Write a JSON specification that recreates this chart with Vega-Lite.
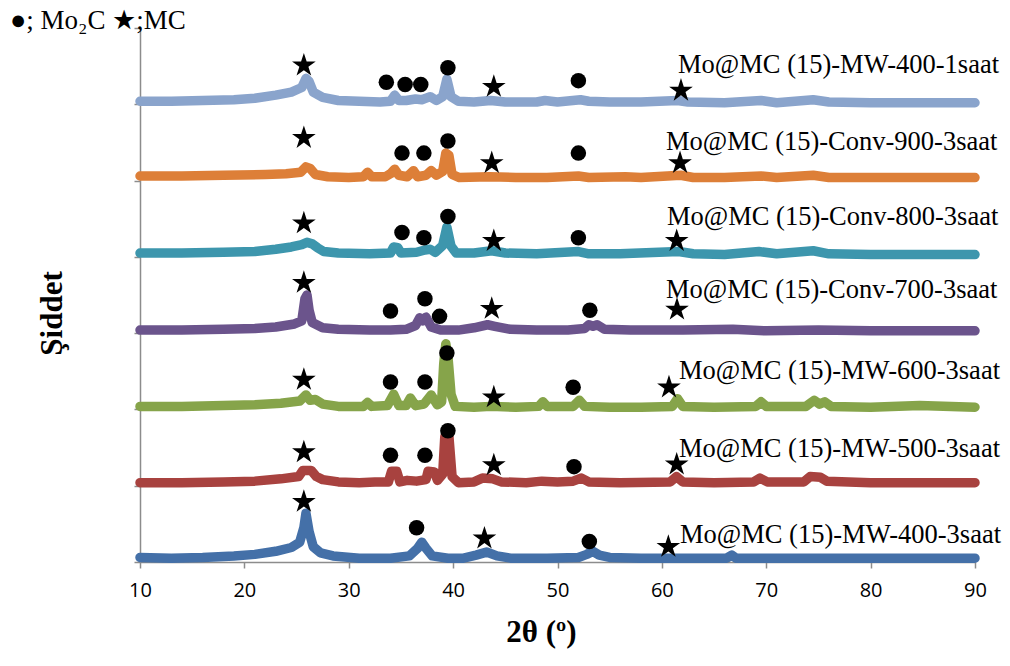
{
  "$schema": "https://vega.github.io/schema/vega-lite/v6.json",
  "width": 835,
  "height": 534,
  "autosize": "none",
  "padding": {"left": 140, "top": 28, "right": 35, "bottom": 104},
  "background": "white",
  "config": {"view": {"stroke": null}},
  "title": {
    "text": "●; Mo₂C  ★;MC",
    "anchor": "start",
    "frame": "group",
    "dx": -130,
    "dy": 29,
    "offset": 0,
    "baseline": "alphabetic",
    "font": "Liberation Serif",
    "fontSize": 27,
    "fontWeight": "normal",
    "color": "#000000"
  },
  "datasets": {
    "xrd": [
      {"s":"MW-400-1saat","x":10,"y":6.04},{"s":"MW-400-1saat","x":13,"y":6.04},{"s":"MW-400-1saat","x":16,"y":6.05},{"s":"MW-400-1saat","x":19,"y":6.06},{"s":"MW-400-1saat","x":21,"y":6.08},{"s":"MW-400-1saat","x":23,"y":6.12},{"s":"MW-400-1saat","x":24.5,"y":6.16},{"s":"MW-400-1saat","x":25.5,"y":6.22},{"s":"MW-400-1saat","x":25.9,"y":6.34},{"s":"MW-400-1saat","x":26.2,"y":6.3},{"s":"MW-400-1saat","x":26.6,"y":6.16},{"s":"MW-400-1saat","x":27.5,"y":6.09},{"s":"MW-400-1saat","x":29,"y":6.05},{"s":"MW-400-1saat","x":31,"y":6.04},{"s":"MW-400-1saat","x":33,"y":6.03},{"s":"MW-400-1saat","x":34,"y":6.04},{"s":"MW-400-1saat","x":34.4,"y":6.12},{"s":"MW-400-1saat","x":34.8,"y":6.05},{"s":"MW-400-1saat","x":35.5,"y":6.05},{"s":"MW-400-1saat","x":36.4,"y":6.07},{"s":"MW-400-1saat","x":37,"y":6.06},{"s":"MW-400-1saat","x":37.8,"y":6.1},{"s":"MW-400-1saat","x":38.4,"y":6.05},{"s":"MW-400-1saat","x":39,"y":6.1},{"s":"MW-400-1saat","x":39.4,"y":6.33},{"s":"MW-400-1saat","x":39.8,"y":6.1},{"s":"MW-400-1saat","x":40.5,"y":6.04},{"s":"MW-400-1saat","x":42,"y":6.03},{"s":"MW-400-1saat","x":43.6,"y":6.05},{"s":"MW-400-1saat","x":45,"y":6.03},{"s":"MW-400-1saat","x":48,"y":6.03},{"s":"MW-400-1saat","x":48.8,"y":6.05},{"s":"MW-400-1saat","x":50,"y":6.03},{"s":"MW-400-1saat","x":52.2,"y":6.06},{"s":"MW-400-1saat","x":53,"y":6.04},{"s":"MW-400-1saat","x":55,"y":6.03},{"s":"MW-400-1saat","x":58,"y":6.03},{"s":"MW-400-1saat","x":61.5,"y":6.05},{"s":"MW-400-1saat","x":62.5,"y":6.03},{"s":"MW-400-1saat","x":66,"y":6.02},{"s":"MW-400-1saat","x":69.5,"y":6.05},{"s":"MW-400-1saat","x":71,"y":6.02},{"s":"MW-400-1saat","x":74.5,"y":6.06},{"s":"MW-400-1saat","x":76,"y":6.03},{"s":"MW-400-1saat","x":80,"y":6.02},{"s":"MW-400-1saat","x":85,"y":6.02},{"s":"MW-400-1saat","x":90,"y":6.02},

      {"s":"Conv-900","x":10,"y":5.06},{"s":"Conv-900","x":14,"y":5.06},{"s":"Conv-900","x":18,"y":5.07},{"s":"Conv-900","x":22,"y":5.08},{"s":"Conv-900","x":24,"y":5.09},{"s":"Conv-900","x":25.4,"y":5.11},{"s":"Conv-900","x":25.9,"y":5.18},{"s":"Conv-900","x":26.3,"y":5.16},{"s":"Conv-900","x":26.8,"y":5.08},{"s":"Conv-900","x":28,"y":5.05},{"s":"Conv-900","x":30,"y":5.04},{"s":"Conv-900","x":31.4,"y":5.05},{"s":"Conv-900","x":31.8,"y":5.11},{"s":"Conv-900","x":32.2,"y":5.05},{"s":"Conv-900","x":33.5,"y":5.05},{"s":"Conv-900","x":34,"y":5.09},{"s":"Conv-900","x":34.4,"y":5.15},{"s":"Conv-900","x":34.8,"y":5.07},{"s":"Conv-900","x":35.6,"y":5.05},{"s":"Conv-900","x":36.2,"y":5.13},{"s":"Conv-900","x":36.6,"y":5.05},{"s":"Conv-900","x":37.4,"y":5.07},{"s":"Conv-900","x":37.9,"y":5.13},{"s":"Conv-900","x":38.4,"y":5.07},{"s":"Conv-900","x":39,"y":5.12},{"s":"Conv-900","x":39.3,"y":5.36},{"s":"Conv-900","x":39.6,"y":5.33},{"s":"Conv-900","x":39.9,"y":5.08},{"s":"Conv-900","x":40.6,"y":5.04},{"s":"Conv-900","x":43.5,"y":5.05},{"s":"Conv-900","x":46,"y":5.04},{"s":"Conv-900","x":49,"y":5.04},{"s":"Conv-900","x":52,"y":5.06},{"s":"Conv-900","x":53,"y":5.04},{"s":"Conv-900","x":56.5,"y":5.05},{"s":"Conv-900","x":58,"y":5.04},{"s":"Conv-900","x":61.8,"y":5.07},{"s":"Conv-900","x":63,"y":5.04},{"s":"Conv-900","x":66,"y":5.04},{"s":"Conv-900","x":69.5,"y":5.06},{"s":"Conv-900","x":71,"y":5.04},{"s":"Conv-900","x":74.5,"y":5.07},{"s":"Conv-900","x":76,"y":5.04},{"s":"Conv-900","x":80,"y":5.04},{"s":"Conv-900","x":85,"y":5.04},{"s":"Conv-900","x":90,"y":5.04},

      {"s":"Conv-800","x":10,"y":4.05},{"s":"Conv-800","x":14,"y":4.05},{"s":"Conv-800","x":18,"y":4.06},{"s":"Conv-800","x":21,"y":4.07},{"s":"Conv-800","x":23,"y":4.1},{"s":"Conv-800","x":24.5,"y":4.13},{"s":"Conv-800","x":25.5,"y":4.16},{"s":"Conv-800","x":26,"y":4.19},{"s":"Conv-800","x":26.5,"y":4.17},{"s":"Conv-800","x":27,"y":4.12},{"s":"Conv-800","x":27.6,"y":4.07},{"s":"Conv-800","x":29,"y":4.05},{"s":"Conv-800","x":32,"y":4.04},{"s":"Conv-800","x":34,"y":4.05},{"s":"Conv-800","x":34.3,"y":4.13},{"s":"Conv-800","x":34.7,"y":4.12},{"s":"Conv-800","x":35,"y":4.05},{"s":"Conv-800","x":36.5,"y":4.06},{"s":"Conv-800","x":37.3,"y":4.09},{"s":"Conv-800","x":37.8,"y":4.1},{"s":"Conv-800","x":38.3,"y":4.06},{"s":"Conv-800","x":39,"y":4.15},{"s":"Conv-800","x":39.4,"y":4.39},{"s":"Conv-800","x":39.8,"y":4.14},{"s":"Conv-800","x":40.3,"y":4.05},{"s":"Conv-800","x":42,"y":4.05},{"s":"Conv-800","x":43.7,"y":4.08},{"s":"Conv-800","x":45,"y":4.05},{"s":"Conv-800","x":48,"y":4.04},{"s":"Conv-800","x":52,"y":4.07},{"s":"Conv-800","x":53,"y":4.04},{"s":"Conv-800","x":56,"y":4.04},{"s":"Conv-800","x":61.6,"y":4.07},{"s":"Conv-800","x":63,"y":4.04},{"s":"Conv-800","x":66,"y":4.03},{"s":"Conv-800","x":69.3,"y":4.07},{"s":"Conv-800","x":71,"y":4.04},{"s":"Conv-800","x":74.5,"y":4.08},{"s":"Conv-800","x":76,"y":4.04},{"s":"Conv-800","x":80,"y":4.03},{"s":"Conv-800","x":85,"y":4.03},{"s":"Conv-800","x":90,"y":4.03},

      {"s":"Conv-700","x":10,"y":3.04},{"s":"Conv-700","x":14,"y":3.04},{"s":"Conv-700","x":18,"y":3.05},{"s":"Conv-700","x":21,"y":3.06},{"s":"Conv-700","x":23,"y":3.08},{"s":"Conv-700","x":24.8,"y":3.12},{"s":"Conv-700","x":25.5,"y":3.16},{"s":"Conv-700","x":25.8,"y":3.45},{"s":"Conv-700","x":26,"y":3.5},{"s":"Conv-700","x":26.2,"y":3.3},{"s":"Conv-700","x":26.5,"y":3.14},{"s":"Conv-700","x":27.5,"y":3.07},{"s":"Conv-700","x":29,"y":3.05},{"s":"Conv-700","x":32,"y":3.04},{"s":"Conv-700","x":34,"y":3.04},{"s":"Conv-700","x":35.5,"y":3.05},{"s":"Conv-700","x":36.4,"y":3.1},{"s":"Conv-700","x":36.8,"y":3.2},{"s":"Conv-700","x":37.1,"y":3.16},{"s":"Conv-700","x":37.4,"y":3.21},{"s":"Conv-700","x":37.9,"y":3.08},{"s":"Conv-700","x":38.8,"y":3.04},{"s":"Conv-700","x":40.5,"y":3.04},{"s":"Conv-700","x":42,"y":3.07},{"s":"Conv-700","x":43.3,"y":3.11},{"s":"Conv-700","x":44,"y":3.09},{"s":"Conv-700","x":45.5,"y":3.05},{"s":"Conv-700","x":48,"y":3.04},{"s":"Conv-700","x":51,"y":3.04},{"s":"Conv-700","x":52.6,"y":3.06},{"s":"Conv-700","x":53,"y":3.11},{"s":"Conv-700","x":53.4,"y":3.09},{"s":"Conv-700","x":53.8,"y":3.11},{"s":"Conv-700","x":54.5,"y":3.05},{"s":"Conv-700","x":57,"y":3.04},{"s":"Conv-700","x":62,"y":3.04},{"s":"Conv-700","x":66.8,"y":3.05},{"s":"Conv-700","x":70,"y":3.03},{"s":"Conv-700","x":75,"y":3.04},{"s":"Conv-700","x":80,"y":3.03},{"s":"Conv-700","x":85,"y":3.03},{"s":"Conv-700","x":90,"y":3.03},

      {"s":"MW-600","x":10,"y":2.04},{"s":"MW-600","x":14,"y":2.04},{"s":"MW-600","x":18,"y":2.05},{"s":"MW-600","x":21,"y":2.06},{"s":"MW-600","x":23.5,"y":2.08},{"s":"MW-600","x":25.3,"y":2.11},{"s":"MW-600","x":25.9,"y":2.19},{"s":"MW-600","x":26.3,"y":2.12},{"s":"MW-600","x":26.8,"y":2.13},{"s":"MW-600","x":27.5,"y":2.07},{"s":"MW-600","x":29,"y":2.04},{"s":"MW-600","x":31.4,"y":2.04},{"s":"MW-600","x":31.8,"y":2.09},{"s":"MW-600","x":32.2,"y":2.04},{"s":"MW-600","x":33.7,"y":2.05},{"s":"MW-600","x":34.3,"y":2.2},{"s":"MW-600","x":34.8,"y":2.05},{"s":"MW-600","x":35.5,"y":2.05},{"s":"MW-600","x":35.9,"y":2.15},{"s":"MW-600","x":36.4,"y":2.05},{"s":"MW-600","x":37.2,"y":2.07},{"s":"MW-600","x":37.9,"y":2.19},{"s":"MW-600","x":38.5,"y":2.06},{"s":"MW-600","x":38.9,"y":2.1},{"s":"MW-600","x":39.1,"y":2.6},{"s":"MW-600","x":39.3,"y":2.86},{"s":"MW-600","x":39.5,"y":2.7},{"s":"MW-600","x":39.8,"y":2.2},{"s":"MW-600","x":40.2,"y":2.04},{"s":"MW-600","x":42,"y":2.03},{"s":"MW-600","x":43.6,"y":2.04},{"s":"MW-600","x":46,"y":2.03},{"s":"MW-600","x":48.2,"y":2.04},{"s":"MW-600","x":48.6,"y":2.1},{"s":"MW-600","x":49,"y":2.04},{"s":"MW-600","x":51.5,"y":2.04},{"s":"MW-600","x":52.1,"y":2.12},{"s":"MW-600","x":52.6,"y":2.04},{"s":"MW-600","x":55,"y":2.03},{"s":"MW-600","x":58,"y":2.03},{"s":"MW-600","x":61,"y":2.04},{"s":"MW-600","x":61.5,"y":2.14},{"s":"MW-600","x":62,"y":2.04},{"s":"MW-600","x":65,"y":2.03},{"s":"MW-600","x":69,"y":2.04},{"s":"MW-600","x":69.5,"y":2.1},{"s":"MW-600","x":70,"y":2.04},{"s":"MW-600","x":73.8,"y":2.04},{"s":"MW-600","x":74.6,"y":2.12},{"s":"MW-600","x":75.1,"y":2.07},{"s":"MW-600","x":75.6,"y":2.1},{"s":"MW-600","x":76.2,"y":2.04},{"s":"MW-600","x":80,"y":2.03},{"s":"MW-600","x":84.7,"y":2.05},{"s":"MW-600","x":90,"y":2.03},

      {"s":"MW-500","x":10,"y":1.04},{"s":"MW-500","x":14,"y":1.04},{"s":"MW-500","x":18,"y":1.05},{"s":"MW-500","x":21,"y":1.06},{"s":"MW-500","x":23.5,"y":1.09},{"s":"MW-500","x":25.2,"y":1.12},{"s":"MW-500","x":25.6,"y":1.2},{"s":"MW-500","x":26.4,"y":1.2},{"s":"MW-500","x":26.9,"y":1.12},{"s":"MW-500","x":27.5,"y":1.08},{"s":"MW-500","x":29,"y":1.05},{"s":"MW-500","x":31,"y":1.04},{"s":"MW-500","x":32.5,"y":1.05},{"s":"MW-500","x":33.8,"y":1.05},{"s":"MW-500","x":34.1,"y":1.19},{"s":"MW-500","x":34.6,"y":1.19},{"s":"MW-500","x":34.9,"y":1.05},{"s":"MW-500","x":35.6,"y":1.07},{"s":"MW-500","x":36.5,"y":1.06},{"s":"MW-500","x":37.4,"y":1.08},{"s":"MW-500","x":37.6,"y":1.19},{"s":"MW-500","x":38.2,"y":1.18},{"s":"MW-500","x":38.5,"y":1.07},{"s":"MW-500","x":39,"y":1.15},{"s":"MW-500","x":39.2,"y":1.64},{"s":"MW-500","x":39.6,"y":1.64},{"s":"MW-500","x":39.9,"y":1.12},{"s":"MW-500","x":40.5,"y":1.04},{"s":"MW-500","x":42,"y":1.05},{"s":"MW-500","x":42.8,"y":1.1},{"s":"MW-500","x":43.8,"y":1.09},{"s":"MW-500","x":44.6,"y":1.05},{"s":"MW-500","x":47,"y":1.04},{"s":"MW-500","x":48.5,"y":1.06},{"s":"MW-500","x":50,"y":1.05},{"s":"MW-500","x":51.5,"y":1.06},{"s":"MW-500","x":52.3,"y":1.1},{"s":"MW-500","x":53,"y":1.05},{"s":"MW-500","x":56,"y":1.04},{"s":"MW-500","x":60.8,"y":1.05},{"s":"MW-500","x":61.4,"y":1.12},{"s":"MW-500","x":62,"y":1.05},{"s":"MW-500","x":65,"y":1.04},{"s":"MW-500","x":68.8,"y":1.05},{"s":"MW-500","x":69.4,"y":1.1},{"s":"MW-500","x":70.1,"y":1.05},{"s":"MW-500","x":73.6,"y":1.05},{"s":"MW-500","x":74.2,"y":1.12},{"s":"MW-500","x":75.2,"y":1.11},{"s":"MW-500","x":75.8,"y":1.06},{"s":"MW-500","x":80,"y":1.04},{"s":"MW-500","x":85,"y":1.04},{"s":"MW-500","x":90,"y":1.04},

      {"s":"MW-400-3saat","x":10,"y":0.06},{"s":"MW-400-3saat","x":13,"y":0.05},{"s":"MW-400-3saat","x":16,"y":0.06},{"s":"MW-400-3saat","x":19,"y":0.08},{"s":"MW-400-3saat","x":21,"y":0.1},{"s":"MW-400-3saat","x":23,"y":0.14},{"s":"MW-400-3saat","x":24.5,"y":0.19},{"s":"MW-400-3saat","x":25.3,"y":0.26},{"s":"MW-400-3saat","x":25.7,"y":0.45},{"s":"MW-400-3saat","x":25.9,"y":0.64},{"s":"MW-400-3saat","x":26.2,"y":0.4},{"s":"MW-400-3saat","x":26.6,"y":0.2},{"s":"MW-400-3saat","x":27.3,"y":0.12},{"s":"MW-400-3saat","x":28.5,"y":0.08},{"s":"MW-400-3saat","x":31,"y":0.05},{"s":"MW-400-3saat","x":34,"y":0.05},{"s":"MW-400-3saat","x":35.8,"y":0.08},{"s":"MW-400-3saat","x":36.6,"y":0.18},{"s":"MW-400-3saat","x":37,"y":0.26},{"s":"MW-400-3saat","x":37.4,"y":0.18},{"s":"MW-400-3saat","x":38,"y":0.08},{"s":"MW-400-3saat","x":39.5,"y":0.05},{"s":"MW-400-3saat","x":41,"y":0.05},{"s":"MW-400-3saat","x":42.2,"y":0.09},{"s":"MW-400-3saat","x":43.2,"y":0.13},{"s":"MW-400-3saat","x":44.2,"y":0.08},{"s":"MW-400-3saat","x":45.5,"y":0.05},{"s":"MW-400-3saat","x":49,"y":0.05},{"s":"MW-400-3saat","x":52,"y":0.06},{"s":"MW-400-3saat","x":52.8,"y":0.1},{"s":"MW-400-3saat","x":53.4,"y":0.14},{"s":"MW-400-3saat","x":54,"y":0.09},{"s":"MW-400-3saat","x":55,"y":0.06},{"s":"MW-400-3saat","x":58,"y":0.05},{"s":"MW-400-3saat","x":61,"y":0.05},{"s":"MW-400-3saat","x":66.2,"y":0.05},{"s":"MW-400-3saat","x":66.7,"y":0.09},{"s":"MW-400-3saat","x":67.1,"y":0.05},{"s":"MW-400-3saat","x":70,"y":0.05},{"s":"MW-400-3saat","x":75,"y":0.05},{"s":"MW-400-3saat","x":80,"y":0.05},{"s":"MW-400-3saat","x":85,"y":0.05},{"s":"MW-400-3saat","x":90,"y":0.05}
    ],
    "phases": [
      {"phase":"MC","x":25.7,"y":6.51},{"phase":"Mo2C","x":33.6,"y":6.29},{"phase":"Mo2C","x":35.4,"y":6.26},{"phase":"Mo2C","x":36.9,"y":6.26},{"phase":"Mo2C","x":39.5,"y":6.48},{"phase":"MC","x":43.9,"y":6.23},{"phase":"Mo2C","x":52.0,"y":6.31},{"phase":"MC","x":61.83,"y":6.18},
      {"phase":"MC","x":25.7,"y":5.56},{"phase":"Mo2C","x":35.1,"y":5.36},{"phase":"Mo2C","x":37.2,"y":5.36},{"phase":"Mo2C","x":39.5,"y":5.52},{"phase":"MC","x":43.7,"y":5.23},{"phase":"Mo2C","x":52.0,"y":5.36},{"phase":"MC","x":61.74,"y":5.23},
      {"phase":"MC","x":25.7,"y":4.44},{"phase":"Mo2C","x":35.1,"y":4.32},{"phase":"Mo2C","x":37.2,"y":4.25},{"phase":"Mo2C","x":39.5,"y":4.53},{"phase":"MC","x":43.9,"y":4.21},{"phase":"Mo2C","x":52.0,"y":4.25},{"phase":"MC","x":61.42,"y":4.21},
      {"phase":"MC","x":25.7,"y":3.66},{"phase":"Mo2C","x":34.0,"y":3.29},{"phase":"Mo2C","x":37.3,"y":3.45},{"phase":"Mo2C","x":38.7,"y":3.22},{"phase":"MC","x":43.7,"y":3.32},{"phase":"Mo2C","x":53.1,"y":3.3},{"phase":"MC","x":61.45,"y":3.31},
      {"phase":"MC","x":25.7,"y":2.39},{"phase":"Mo2C","x":34.0,"y":2.36},{"phase":"Mo2C","x":37.3,"y":2.36},{"phase":"Mo2C","x":39.4,"y":2.74},{"phase":"MC","x":43.9,"y":2.16},{"phase":"Mo2C","x":51.5,"y":2.29},{"phase":"MC","x":60.68,"y":2.29},
      {"phase":"MC","x":25.7,"y":1.44},{"phase":"Mo2C","x":34.0,"y":1.4},{"phase":"Mo2C","x":37.3,"y":1.4},{"phase":"Mo2C","x":39.5,"y":1.72},{"phase":"MC","x":43.9,"y":1.27},{"phase":"Mo2C","x":51.58,"y":1.25},{"phase":"MC","x":61.42,"y":1.28},
      {"phase":"MC","x":25.7,"y":0.79},{"phase":"Mo2C","x":36.5,"y":0.45},{"phase":"MC","x":43.0,"y":0.31},{"phase":"Mo2C","x":53.05,"y":0.27},{"phase":"MC","x":60.62,"y":0.2}
    ],
    "labels": [
      {"text":"Mo@MC (15)-MW-400-1saat","x":61.55,"y":6.41},
      {"text":"Mo@MC (15)-Conv-900-3saat","x":60.4,"y":5.4},
      {"text":"Mo@MC (15)-Conv-800-3saat","x":60.49,"y":4.42},
      {"text":"Mo@MC (15)-Conv-700-3saat","x":60.4,"y":3.46},
      {"text":"Mo@MC (15)-MW-600-3saat","x":61.64,"y":2.395},
      {"text":"Mo@MC (15)-MW-500-3saat","x":61.64,"y":1.38},
      {"text":"Mo@MC (15)-MW-400-3saat","x":61.74,"y":0.245}
    ]
  },
  "encoding": {
    "x": {
      "field": "x", "type": "quantitative",
      "scale": {"domain": [10, 90], "nice": false, "zero": false},
      "axis": {
        "values": [10, 20, 30, 40, 50, 60, 70, 80, 90],
        "grid": false, "labelFlush": false,
        "domainColor": "#8c8c8c", "domainWidth": 1.5,
        "tickColor": "#8c8c8c", "tickWidth": 1.5, "tickSize": 6,
        "labelFont": "Open Sans", "labelFontSize": 20, "labelColor": "#000000", "labelPadding": 12,
        "title": "2θ (º)",
        "titleFont": "Liberation Serif", "titleFontSize": 31, "titleFontWeight": "bold", "titleColor": "#000000",
        "titleX": 401, "titleY": 70, "titleBaseline": "middle"
      }
    },
    "y": {
      "field": "y", "type": "quantitative",
      "scale": {"domain": [0, 7], "nice": false, "zero": false},
      "axis": {
        "values": [0, 1, 2, 3, 4, 5, 6, 7],
        "grid": false, "labels": false,
        "domainColor": "#8c8c8c", "domainWidth": 1.5,
        "tickColor": "#8c8c8c", "tickWidth": 1.5, "tickSize": 6,
        "title": "Şiddet",
        "titleFont": "Liberation Serif", "titleFontSize": 31, "titleFontWeight": "bold", "titleColor": "#000000",
        "titleX": -88, "titleY": 285, "titleBaseline": "middle", "titleAngle": 270
      }
    }
  },
  "layer": [
    {
      "data": {"name": "xrd"},
      "mark": {"type": "line", "strokeWidth": 9.5, "strokeCap": "round", "strokeJoin": "round"},
      "encoding": {
        "color": {
          "field": "s", "type": "nominal", "legend": null,
          "scale": {
            "domain": ["MW-400-1saat", "Conv-900", "Conv-800", "Conv-700", "MW-600", "MW-500", "MW-400-3saat"],
            "range": ["#8aa4cc", "#dd7f38", "#3d96ad", "#6b548c", "#86a44a", "#a8423f", "#4470a8"]
          }
        }
      }
    },
    {
      "data": {"name": "phases"},
      "mark": {"type": "point", "filled": true, "opacity": 1, "color": "#000000"},
      "encoding": {
        "shape": {
          "field": "phase", "type": "nominal", "legend": null,
          "scale": {
            "domain": ["Mo2C", "MC"],
            "range": ["circle", "M0,-1L0.2245,-0.309L0.951,-0.309L0.363,0.118L0.588,0.809L0,0.382L-0.588,0.809L-0.363,0.118L-0.951,-0.309L-0.2245,-0.309Z"]
          }
        },
        "size": {
          "field": "phase", "type": "nominal", "legend": null,
          "scale": {"domain": ["Mo2C", "MC"], "range": [240, 620]}
        }
      }
    },
    {
      "data": {"name": "labels"},
      "mark": {"type": "text", "align": "left", "baseline": "alphabetic", "font": "Liberation Serif", "fontSize": 26.5, "color": "#000000"},
      "encoding": {
        "text": {"field": "text", "type": "nominal"}
      }
    }
  ]
}
